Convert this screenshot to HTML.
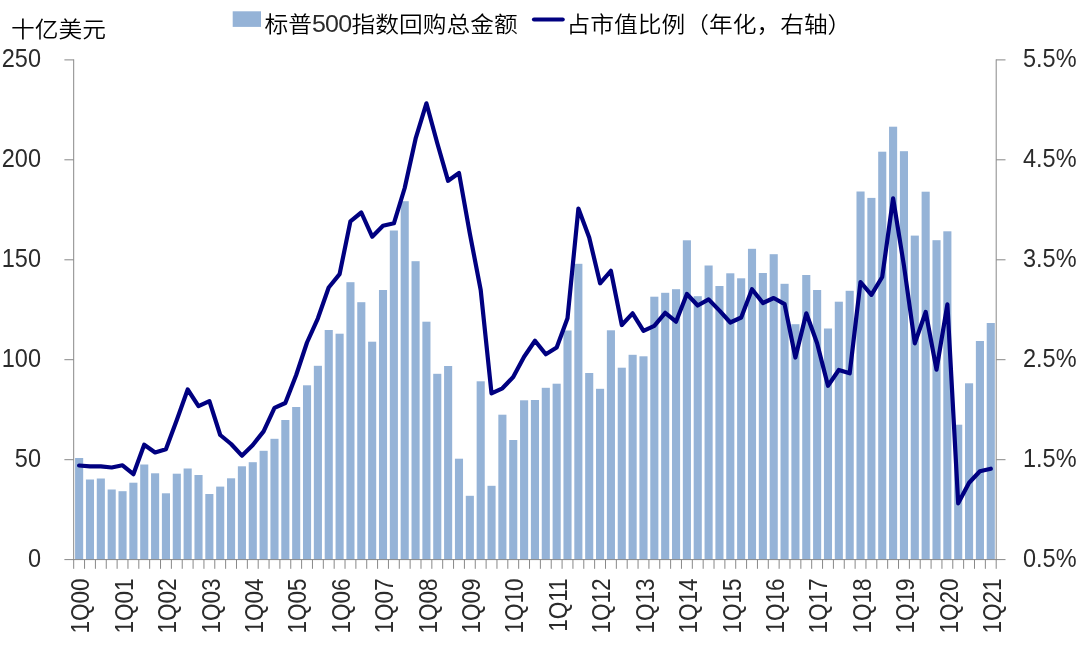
<!DOCTYPE html>
<html lang="zh-CN"><head><meta charset="utf-8"><title>标普500指数回购总金额</title>
<style>html,body{margin:0;padding:0;background:#fff}body{width:1080px;height:663px;overflow:hidden}svg{display:block}text{font-family:"Liberation Sans", "Noto Sans CJK SC", sans-serif;font-size:24px;font-weight:350;fill:#000}.c{font-size:23.75px}.d{font-size:25px;fill:#2b2b2b}</style></head><body>
<svg width="1080" height="663" viewBox="0 0 1080 663">
<rect width="1080" height="663" fill="#fff"/>
<g fill="#95b3d7">
<rect x="75.08" y="458.0" width="8.1" height="101.6"/>
<rect x="85.93" y="479.5" width="8.1" height="80.1"/>
<rect x="96.78" y="478.5" width="8.1" height="81.1"/>
<rect x="107.64" y="489.5" width="8.1" height="70.1"/>
<rect x="118.49" y="491.2" width="8.1" height="68.4"/>
<rect x="129.34" y="482.7" width="8.1" height="76.9"/>
<rect x="140.19" y="464.5" width="8.1" height="95.1"/>
<rect x="151.05" y="473.3" width="8.1" height="86.3"/>
<rect x="161.90" y="493.3" width="8.1" height="66.3"/>
<rect x="172.75" y="473.7" width="8.1" height="85.9"/>
<rect x="183.61" y="468.5" width="8.1" height="91.1"/>
<rect x="194.46" y="475.0" width="8.1" height="84.6"/>
<rect x="205.31" y="494.0" width="8.1" height="65.6"/>
<rect x="216.16" y="486.6" width="8.1" height="73.0"/>
<rect x="227.02" y="478.3" width="8.1" height="81.3"/>
<rect x="237.87" y="466.3" width="8.1" height="93.3"/>
<rect x="248.72" y="462.2" width="8.1" height="97.4"/>
<rect x="259.58" y="450.8" width="8.1" height="108.8"/>
<rect x="270.43" y="438.8" width="8.1" height="120.8"/>
<rect x="281.28" y="420.0" width="8.1" height="139.6"/>
<rect x="292.14" y="407.0" width="8.1" height="152.6"/>
<rect x="302.99" y="385.3" width="8.1" height="174.3"/>
<rect x="313.84" y="365.8" width="8.1" height="193.8"/>
<rect x="324.69" y="330.0" width="8.1" height="229.6"/>
<rect x="335.55" y="333.7" width="8.1" height="225.9"/>
<rect x="346.40" y="282.2" width="8.1" height="277.4"/>
<rect x="357.25" y="302.2" width="8.1" height="257.4"/>
<rect x="368.11" y="341.7" width="8.1" height="217.9"/>
<rect x="378.96" y="290.0" width="8.1" height="269.6"/>
<rect x="389.81" y="230.5" width="8.1" height="329.1"/>
<rect x="400.66" y="201.2" width="8.1" height="358.4"/>
<rect x="411.52" y="261.2" width="8.1" height="298.4"/>
<rect x="422.37" y="321.7" width="8.1" height="237.9"/>
<rect x="433.22" y="373.8" width="8.1" height="185.8"/>
<rect x="444.08" y="366.0" width="8.1" height="193.6"/>
<rect x="454.93" y="458.7" width="8.1" height="100.9"/>
<rect x="465.78" y="495.8" width="8.1" height="63.8"/>
<rect x="476.64" y="381.3" width="8.1" height="178.3"/>
<rect x="487.49" y="485.8" width="8.1" height="73.8"/>
<rect x="498.34" y="414.7" width="8.1" height="144.9"/>
<rect x="509.19" y="440.0" width="8.1" height="119.6"/>
<rect x="520.05" y="400.3" width="8.1" height="159.3"/>
<rect x="530.90" y="400.0" width="8.1" height="159.6"/>
<rect x="541.75" y="387.8" width="8.1" height="171.8"/>
<rect x="552.61" y="383.7" width="8.1" height="175.9"/>
<rect x="563.46" y="330.5" width="8.1" height="229.1"/>
<rect x="574.31" y="263.8" width="8.1" height="295.8"/>
<rect x="585.16" y="373.0" width="8.1" height="186.6"/>
<rect x="596.02" y="388.8" width="8.1" height="170.8"/>
<rect x="606.87" y="330.3" width="8.1" height="229.3"/>
<rect x="617.72" y="367.7" width="8.1" height="191.9"/>
<rect x="628.58" y="354.8" width="8.1" height="204.8"/>
<rect x="639.43" y="356.3" width="8.1" height="203.3"/>
<rect x="650.28" y="296.7" width="8.1" height="262.9"/>
<rect x="661.14" y="292.8" width="8.1" height="266.8"/>
<rect x="671.99" y="289.2" width="8.1" height="270.4"/>
<rect x="682.84" y="240.3" width="8.1" height="319.3"/>
<rect x="693.69" y="296.2" width="8.1" height="263.4"/>
<rect x="704.55" y="265.5" width="8.1" height="294.1"/>
<rect x="715.40" y="286.0" width="8.1" height="273.6"/>
<rect x="726.25" y="273.3" width="8.1" height="286.3"/>
<rect x="737.11" y="278.3" width="8.1" height="281.3"/>
<rect x="747.96" y="248.8" width="8.1" height="310.8"/>
<rect x="758.81" y="273.0" width="8.1" height="286.6"/>
<rect x="769.66" y="254.2" width="8.1" height="305.4"/>
<rect x="780.52" y="283.8" width="8.1" height="275.8"/>
<rect x="791.37" y="324.2" width="8.1" height="235.4"/>
<rect x="802.22" y="275.0" width="8.1" height="284.6"/>
<rect x="813.08" y="290.0" width="8.1" height="269.6"/>
<rect x="823.93" y="328.5" width="8.1" height="231.1"/>
<rect x="834.78" y="301.7" width="8.1" height="257.9"/>
<rect x="845.64" y="290.8" width="8.1" height="268.8"/>
<rect x="856.49" y="191.5" width="8.1" height="368.1"/>
<rect x="867.34" y="197.9" width="8.1" height="361.7"/>
<rect x="878.19" y="151.7" width="8.1" height="407.9"/>
<rect x="889.05" y="126.7" width="8.1" height="432.9"/>
<rect x="899.90" y="151.2" width="8.1" height="408.4"/>
<rect x="910.75" y="235.6" width="8.1" height="324.0"/>
<rect x="921.61" y="191.7" width="8.1" height="367.9"/>
<rect x="932.46" y="240.2" width="8.1" height="319.4"/>
<rect x="943.31" y="231.3" width="8.1" height="328.3"/>
<rect x="954.16" y="424.7" width="8.1" height="134.9"/>
<rect x="965.02" y="383.3" width="8.1" height="176.3"/>
<rect x="975.87" y="341.0" width="8.1" height="218.6"/>
<rect x="986.72" y="323.0" width="8.1" height="236.6"/>
</g>
<g stroke="#888888" stroke-width="1" fill="none">
<path d="M73.7 59.4 V560.1"/>
<path d="M996.2 59.4 V560.1"/>
<path d="M64.4 559.6 H1005.5"/>
<path d="M64.4 59.9 H73.7"/>
<path d="M996.2 59.9 H1005.5"/>
<path d="M64.4 159.8 H73.7"/>
<path d="M996.2 159.8 H1005.5"/>
<path d="M64.4 259.8 H73.7"/>
<path d="M996.2 259.8 H1005.5"/>
<path d="M64.4 359.7 H73.7"/>
<path d="M996.2 359.7 H1005.5"/>
<path d="M64.4 459.7 H73.7"/>
<path d="M996.2 459.7 H1005.5"/>
<path d="M73.70 559.6 V568.8"/>
<path d="M84.55 559.6 V568.8"/>
<path d="M95.41 559.6 V568.8"/>
<path d="M106.26 559.6 V568.8"/>
<path d="M117.11 559.6 V568.8"/>
<path d="M127.96 559.6 V568.8"/>
<path d="M138.82 559.6 V568.8"/>
<path d="M149.67 559.6 V568.8"/>
<path d="M160.52 559.6 V568.8"/>
<path d="M171.38 559.6 V568.8"/>
<path d="M182.23 559.6 V568.8"/>
<path d="M193.08 559.6 V568.8"/>
<path d="M203.94 559.6 V568.8"/>
<path d="M214.79 559.6 V568.8"/>
<path d="M225.64 559.6 V568.8"/>
<path d="M236.49 559.6 V568.8"/>
<path d="M247.35 559.6 V568.8"/>
<path d="M258.20 559.6 V568.8"/>
<path d="M269.05 559.6 V568.8"/>
<path d="M279.91 559.6 V568.8"/>
<path d="M290.76 559.6 V568.8"/>
<path d="M301.61 559.6 V568.8"/>
<path d="M312.46 559.6 V568.8"/>
<path d="M323.32 559.6 V568.8"/>
<path d="M334.17 559.6 V568.8"/>
<path d="M345.02 559.6 V568.8"/>
<path d="M355.88 559.6 V568.8"/>
<path d="M366.73 559.6 V568.8"/>
<path d="M377.58 559.6 V568.8"/>
<path d="M388.44 559.6 V568.8"/>
<path d="M399.29 559.6 V568.8"/>
<path d="M410.14 559.6 V568.8"/>
<path d="M420.99 559.6 V568.8"/>
<path d="M431.85 559.6 V568.8"/>
<path d="M442.70 559.6 V568.8"/>
<path d="M453.55 559.6 V568.8"/>
<path d="M464.41 559.6 V568.8"/>
<path d="M475.26 559.6 V568.8"/>
<path d="M486.11 559.6 V568.8"/>
<path d="M496.96 559.6 V568.8"/>
<path d="M507.82 559.6 V568.8"/>
<path d="M518.67 559.6 V568.8"/>
<path d="M529.52 559.6 V568.8"/>
<path d="M540.38 559.6 V568.8"/>
<path d="M551.23 559.6 V568.8"/>
<path d="M562.08 559.6 V568.8"/>
<path d="M572.94 559.6 V568.8"/>
<path d="M583.79 559.6 V568.8"/>
<path d="M594.64 559.6 V568.8"/>
<path d="M605.49 559.6 V568.8"/>
<path d="M616.35 559.6 V568.8"/>
<path d="M627.20 559.6 V568.8"/>
<path d="M638.05 559.6 V568.8"/>
<path d="M648.91 559.6 V568.8"/>
<path d="M659.76 559.6 V568.8"/>
<path d="M670.61 559.6 V568.8"/>
<path d="M681.46 559.6 V568.8"/>
<path d="M692.32 559.6 V568.8"/>
<path d="M703.17 559.6 V568.8"/>
<path d="M714.02 559.6 V568.8"/>
<path d="M724.88 559.6 V568.8"/>
<path d="M735.73 559.6 V568.8"/>
<path d="M746.58 559.6 V568.8"/>
<path d="M757.44 559.6 V568.8"/>
<path d="M768.29 559.6 V568.8"/>
<path d="M779.14 559.6 V568.8"/>
<path d="M789.99 559.6 V568.8"/>
<path d="M800.85 559.6 V568.8"/>
<path d="M811.70 559.6 V568.8"/>
<path d="M822.55 559.6 V568.8"/>
<path d="M833.41 559.6 V568.8"/>
<path d="M844.26 559.6 V568.8"/>
<path d="M855.11 559.6 V568.8"/>
<path d="M865.96 559.6 V568.8"/>
<path d="M876.82 559.6 V568.8"/>
<path d="M887.67 559.6 V568.8"/>
<path d="M898.52 559.6 V568.8"/>
<path d="M909.38 559.6 V568.8"/>
<path d="M920.23 559.6 V568.8"/>
<path d="M931.08 559.6 V568.8"/>
<path d="M941.94 559.6 V568.8"/>
<path d="M952.79 559.6 V568.8"/>
<path d="M963.64 559.6 V568.8"/>
<path d="M974.49 559.6 V568.8"/>
<path d="M985.35 559.6 V568.8"/>
<path d="M996.20 559.6 V568.8"/>
</g>
<polyline points="79.1,465.5 90.0,466.3 100.8,466.3 111.7,467.5 122.5,465.3 133.4,474.2 144.2,444.7 155.1,452.5 165.9,449.2 176.8,420.0 187.7,389.5 198.5,406.2 209.4,401.2 220.2,435.0 231.1,444.0 241.9,455.7 252.8,445.0 263.6,431.4 274.5,407.8 285.3,403.0 296.2,375.0 307.0,342.5 317.9,318.3 328.7,287.5 339.6,274.2 350.4,221.3 361.3,212.5 372.2,236.7 383.0,225.8 393.9,223.3 404.7,188.0 415.6,138.7 426.4,103.3 437.3,143.3 448.1,180.8 459.0,173.0 469.8,233.3 480.7,290.0 491.5,393.3 502.4,388.3 513.2,377.0 524.1,356.7 535.0,340.8 545.8,354.2 556.7,347.5 567.5,318.3 578.4,208.5 589.2,237.5 600.1,283.3 610.9,270.8 621.8,325.0 632.6,313.3 643.5,330.8 654.3,325.8 665.2,312.8 676.0,321.7 686.9,294.0 697.7,305.5 708.6,299.4 719.5,310.6 730.3,322.5 741.2,317.5 752.0,289.2 762.9,303.0 773.7,298.0 784.6,304.2 795.4,357.5 806.3,313.3 817.1,343.3 828.0,385.8 838.8,370.0 849.7,373.3 860.5,282.0 871.4,294.8 882.2,277.0 893.1,198.3 904.0,266.0 914.8,343.3 925.7,312.0 936.5,369.7 947.4,304.4 958.2,503.3 969.1,482.8 979.9,471.2 990.8,468.7" fill="none" stroke="#000080" stroke-width="4.2" stroke-linejoin="round" stroke-linecap="round"/>
<text class="d" transform="translate(41 67.4) scale(0.94 1.01)" text-anchor="end">250</text>
<text class="d" transform="translate(41 167.3) scale(0.94 1.01)" text-anchor="end">200</text>
<text class="d" transform="translate(41 267.3) scale(0.94 1.01)" text-anchor="end">150</text>
<text class="d" transform="translate(41 367.2) scale(0.94 1.01)" text-anchor="end">100</text>
<text class="d" transform="translate(41 467.2) scale(0.94 1.01)" text-anchor="end">50</text>
<text class="d" transform="translate(41 567.1) scale(0.94 1.01)" text-anchor="end">0</text>
<text class="d" transform="translate(1023 67.4) scale(0.94 1.01)">5.5%</text>
<text class="d" transform="translate(1023 167.3) scale(0.94 1.01)">4.5%</text>
<text class="d" transform="translate(1023 267.3) scale(0.94 1.01)">3.5%</text>
<text class="d" transform="translate(1023 367.2) scale(0.94 1.01)">2.5%</text>
<text class="d" transform="translate(1023 467.2) scale(0.94 1.01)">1.5%</text>
<text class="d" transform="translate(1023 567.1) scale(0.94 1.01)">0.5%</text>
<text class="d" transform="translate(89.3 578.5) rotate(-90) scale(0.9 1)" text-anchor="end">1Q00</text>
<text class="d" transform="translate(132.7 578.5) rotate(-90) scale(0.9 1)" text-anchor="end">1Q01</text>
<text class="d" transform="translate(176.1 578.5) rotate(-90) scale(0.9 1)" text-anchor="end">1Q02</text>
<text class="d" transform="translate(219.6 578.5) rotate(-90) scale(0.9 1)" text-anchor="end">1Q03</text>
<text class="d" transform="translate(263.0 578.5) rotate(-90) scale(0.9 1)" text-anchor="end">1Q04</text>
<text class="d" transform="translate(306.4 578.5) rotate(-90) scale(0.9 1)" text-anchor="end">1Q05</text>
<text class="d" transform="translate(349.8 578.5) rotate(-90) scale(0.9 1)" text-anchor="end">1Q06</text>
<text class="d" transform="translate(393.2 578.5) rotate(-90) scale(0.9 1)" text-anchor="end">1Q07</text>
<text class="d" transform="translate(436.6 578.5) rotate(-90) scale(0.9 1)" text-anchor="end">1Q08</text>
<text class="d" transform="translate(480.0 578.5) rotate(-90) scale(0.9 1)" text-anchor="end">1Q09</text>
<text class="d" transform="translate(523.4 578.5) rotate(-90) scale(0.9 1)" text-anchor="end">1Q10</text>
<text class="d" transform="translate(566.9 578.5) rotate(-90) scale(0.9 1)" text-anchor="end">1Q11</text>
<text class="d" transform="translate(610.3 578.5) rotate(-90) scale(0.9 1)" text-anchor="end">1Q12</text>
<text class="d" transform="translate(653.7 578.5) rotate(-90) scale(0.9 1)" text-anchor="end">1Q13</text>
<text class="d" transform="translate(697.1 578.5) rotate(-90) scale(0.9 1)" text-anchor="end">1Q14</text>
<text class="d" transform="translate(740.5 578.5) rotate(-90) scale(0.9 1)" text-anchor="end">1Q15</text>
<text class="d" transform="translate(783.9 578.5) rotate(-90) scale(0.9 1)" text-anchor="end">1Q16</text>
<text class="d" transform="translate(827.3 578.5) rotate(-90) scale(0.9 1)" text-anchor="end">1Q17</text>
<text class="d" transform="translate(870.7 578.5) rotate(-90) scale(0.9 1)" text-anchor="end">1Q18</text>
<text class="d" transform="translate(914.2 578.5) rotate(-90) scale(0.9 1)" text-anchor="end">1Q19</text>
<text class="d" transform="translate(957.6 578.5) rotate(-90) scale(0.9 1)" text-anchor="end">1Q20</text>
<text class="d" transform="translate(1001.0 578.5) rotate(-90) scale(0.9 1)" text-anchor="end">1Q21</text>
<text class="c" transform="translate(11 37.3) scale(1 0.93)">十亿美元</text>
<rect x="232.7" y="11.3" width="28.3" height="15.6" fill="#95b3d7"/>
<text class="c" transform="translate(264.4 31.8) scale(1 0.93)">标普<tspan style="font-size:25px;letter-spacing:-0.7px;fill:#2b2b2b">500</tspan>指数回购总金额</text>
<path d="M534 19.5 H562.7" stroke="#000080" stroke-width="4.2" stroke-linecap="round"/>
<text class="c" transform="translate(566.5 31.8) scale(1 0.93)">占市值比例（年化，右轴）</text>
</svg></body></html>
